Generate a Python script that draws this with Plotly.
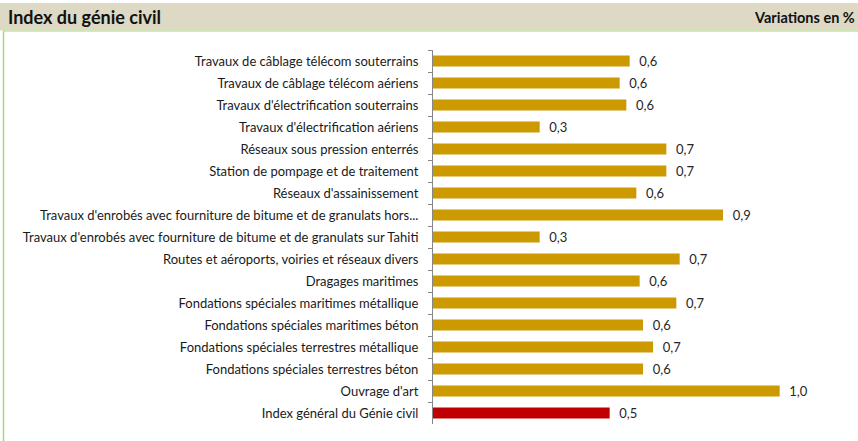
import plotly.graph_objects as go

categories = [
    "Travaux de câblage télécom souterrains",
    "Travaux de câblage télécom aériens",
    "Travaux d'électrification souterrains",
    "Travaux d'électrification aériens",
    "Réseaux sous pression enterrés",
    "Station de pompage et de traitement",
    "Réseaux d'assainissement",
    "Travaux d'enrobés avec fourniture de bitume et de granulats hors...",
    "Travaux d'enrobés avec fourniture de bitume et de granulats sur Tahiti",
    "Routes et aéroports, voiries et réseaux divers",
    "Dragages maritimes",
    "Fondations spéciales maritimes métallique",
    "Fondations spéciales maritimes béton",
    "Fondations spéciales terrestres métallique",
    "Fondations spéciales terrestres béton",
    "Ouvrage d'art",
    "Index général du Génie civil",
]
values = [0.59, 0.56, 0.58, 0.32, 0.70, 0.70, 0.61, 0.87, 0.32, 0.74,
          0.62, 0.73, 0.63, 0.66, 0.63, 1.04, 0.53]
colors = ["#CC9900"] * 16 + ["#C00000"]
labels = ["\u00a0\u00a0" + f"{v:.1f}".replace(".", ",") for v in values]

FONT = "Lato"
L, R, T, B = 433, 25, 50, 17
PW, PH = 858 - L - R, 441 - T - B

def px_x(x):
    return (x - L) / PW

def px_y(y):
    return 1 - (y - T) / PH

fig = go.Figure(go.Bar(
    y=categories, x=values, orientation="h",
    marker=dict(color=colors, line=dict(width=0)),
    text=labels, textposition="outside", cliponaxis=False,
    constraintext="none",
    textfont=dict(family=FONT, size=13, color="#262626"),
    width=0.5,
))

fig.update_layout(
    width=858, height=441,
    margin=dict(l=L, r=R, t=T, b=B, autoexpand=False),
    paper_bgcolor="white", plot_bgcolor="white",
    showlegend=False,
    xaxis=dict(range=[0, 1.2], visible=False, showgrid=False, zeroline=False),
    yaxis=dict(
        autorange="reversed", type="category", automargin=False,
        showline=True, linecolor="#868686", linewidth=1,
        ticks="outside", tickson="boundaries", ticklen=4, tickcolor="#868686",
        ticklabelstandoff=11,
        tickfont=dict(family=FONT, size=13, color="#1a1a1a"),
        showgrid=False,
    ),
    shapes=[
        dict(type="rect", xref="paper", yref="paper", layer="below",
             x0=px_x(0), x1=px_x(858), y0=px_y(30.5), y1=px_y(3),
             fillcolor="#DDD9C4", line=dict(width=0)),
        dict(type="line", xref="paper", yref="paper",
             x0=px_x(3.5), x1=px_x(3.5), y0=px_y(441), y1=px_y(30.5),
             line=dict(color="#A9D977", width=1.5)),
        dict(type="line", xref="paper", yref="paper",
             x0=px_x(3.5), x1=px_x(858), y0=px_y(31), y1=px_y(31),
             line=dict(color="#C4E3A4", width=1.5)),
    ],
    annotations=[
        dict(text="<b>Index du génie civil</b>", xref="paper", yref="paper",
             x=px_x(6), y=px_y(17), xanchor="left", yanchor="middle",
             showarrow=False, font=dict(family=FONT, size=18, color="#111111")),
        dict(text="<b>Variations en %</b>", xref="paper", yref="paper",
             x=px_x(857), y=px_y(17), xanchor="right", yanchor="middle",
             showarrow=False, font=dict(family=FONT, size=14.5, color="#111111")),
    ],
)

fig.write_html(
    "out.html",
    config={"displayModeBar": False},
    post_script="document.body.style.margin='0';document.body.style.overflow='hidden';",
)
